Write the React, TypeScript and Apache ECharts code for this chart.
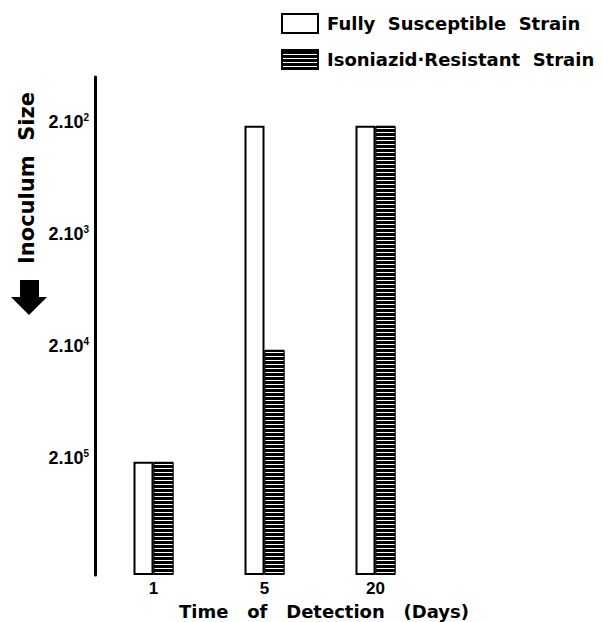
import React, { useEffect, useRef } from 'react';
import * as echarts from 'echarts';

const days = ['1', '5', '20'];
const susceptibleExp = [5, 2, 2];
const resistantExp = [5, 4, 2];
const tickExponents = [2, 3, 4, 5];
const seriesNames = ['Fully Susceptible Strain', 'Isoniazid·Resistant Strain'];
const xTitle = 'Time   of   Detection   (Days)';
const yTitle = 'Inoculum  Size';

// axis value = depth below the baseline exponent (axis drawn downward in inoculum size)
const BASE = 6.01;
const MAXV = 4.446;
const FONT = '"DejaVu Sans", sans-serif';

export default function App() {
  const ref = useRef<HTMLDivElement>(null);
  useEffect(() => {
    if (!ref.current) return;
    const chart = echarts.init(ref.current, null, { renderer: 'svg' });
    const option: any = {
      animation: false,
      backgroundColor: '#fff',
      legend: {
        orient: 'vertical',
        left: 276,
        top: 8,
        itemWidth: 36,
        itemHeight: 19,
        itemGap: 15,
        icon: 'rect',
        formatter: (n: string) => n.replace(/ /g, '  '),
        textStyle: { fontFamily: FONT, fontWeight: 'bold', fontSize: 18, color: '#000', padding: [0, 0, 0, 4] },
        data: seriesNames,
      },
      grid: { left: 98, top: 77, width: 333, height: 498 },
      xAxis: {
        type: 'category',
        data: days,
        axisLine: { show: false },
        axisTick: { show: false },
        axisLabel: { margin: 5, fontSize: 17, color: '#000', fontFamily: 'Liberation Sans', fontWeight: 'bold' },
      },
      yAxis: {
        type: 'value',
        min: 0,
        max: MAXV,
        offset: 3,
        axisLine: { show: true, lineStyle: { color: '#000', width: 3 } },
        axisTick: { show: false },
        splitLine: { show: false },
        axisLabel: {
          customValues: tickExponents.map((k) => BASE - k),
          formatter: (v: number) => `{b|2.10}{s|${Math.round(BASE - v)}}`,
          margin: 6,
          padding: [0, 0, 8, 0],
          rich: {
            b: { fontSize: 18, fontWeight: 'bold', fontFamily: 'Liberation Sans', color: '#000', lineHeight: 19 },
            s: { fontSize: 10, fontWeight: 'bold', fontFamily: 'Liberation Sans', color: '#000', verticalAlign: 'top', lineHeight: 10 },
          },
        },
      },
      series: [
        {
          name: seriesNames[0],
          type: 'bar',
          data: susceptibleExp.map((e) => BASE - e),
          barWidth: 20,
          barGap: '0%',
          itemStyle: { color: '#fff', borderColor: '#000', borderWidth: 2 },
        },
        {
          name: seriesNames[1],
          type: 'bar',
          data: resistantExp.map((e) => BASE - e),
          barWidth: 20,
          barGap: '0%',
          itemStyle: {
            color: '#000',
            borderColor: '#000',
            borderWidth: 1,
            decal: { symbol: 'rect', symbolSize: 1, color: '#fff', dashArrayX: [8, 0], dashArrayY: [1, 3], rotation: 0 },
          },
        },
      ],
      graphic: [
        {
          type: 'text',
          x: 27,
          y: 178,
          rotation: Math.PI / 2,
          style: { text: yTitle, fontFamily: FONT, fontWeight: 'bold', fontSize: 21, fill: '#000', align: 'center', verticalAlign: 'middle', textAlign: 'center', textVerticalAlign: 'middle' },
        },
        {
          type: 'polygon',
          shape: { points: [[20, 280], [39, 280], [39, 297], [47, 297], [29, 315], [11, 297], [20, 297]] },
          style: { fill: '#000' },
        },
        {
          type: 'text',
          x: 324,
          y: 611,
          style: { text: xTitle, fontFamily: FONT, fontWeight: 'bold', fontSize: 18, fill: '#000', align: 'center', verticalAlign: 'middle', textAlign: 'center', textVerticalAlign: 'middle' },
        },
      ],
    };
    chart.setOption(option);
    return () => chart.dispose();
  }, []);
  return <div ref={ref} style={{ position: 'absolute', left: 0, top: 0, width: 603, height: 622 }} />;
}
